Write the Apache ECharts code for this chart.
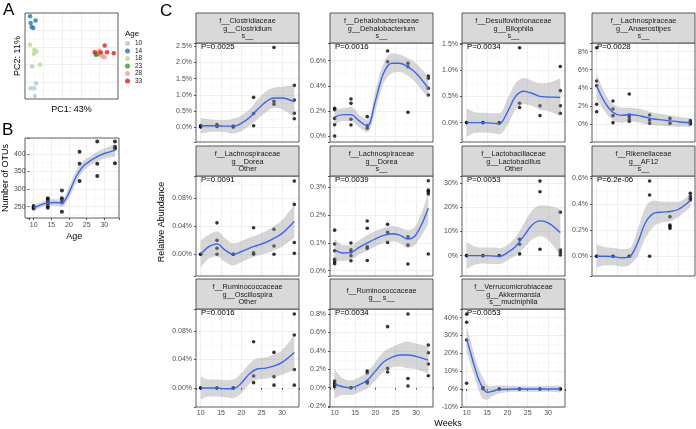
<!DOCTYPE html>
<html>
<head>
<meta charset="utf-8">
<script src="https://cdn.jsdelivr.net/npm/echarts@6/dist/echarts.min.js"></script>
<style>
  html, body { margin: 0; padding: 0; background: #fff; }
  #chart { width: 696px; height: 429px; }
</style>
</head>
<body>
<div id="chart"></div>
<script>
  // ---------- values ----------
  const weeks = [10, 14, 18, 23, 28, 33]
  const curveWeeks = [10, 12, 14, 16, 18, 20, 22, 24, 26, 28, 30, 33]
  const akkWeeks = [10, 11, 12, 13, 14, 15, 16, 18, 23, 28, 33]

  // panel A: PCA scores (arbitrary units)
  const ages = ['10', '14', '18', '23', '28', '33']
  const ageColors = ['#a6cee3', '#1f78b4', '#b2df8a', '#33a02c', '#fb9a99', '#e31a1c']
  const pcaAge10 = [[7.5, 37.7], [11.8, 18.3], [6.1, 12.5], [10, 12.5], [10.7, 3.5]]
  const pcaAge14 = [[5.4, 96.1], [11.4, 91.4], [6.1, 88.3], [7.1, 83.7], [8.9, 82.5]]
  const pcaAge18 = [[5.4, 63], [10, 57.2], [12.5, 55.3], [9.6, 52.5], [16.1, 39.7]]
  const pcaAge23 = [[76.8, 52.1], [78.9, 52.1], [77.9, 53.3], [76.1, 51.4]]
  const pcaAge28 = [[79.3, 56.4], [82.1, 51.4], [85.7, 48.6], [83.2, 49.4], [80.4, 54.1]]
  const pcaAge33 = [[85.7, 62.3], [81.4, 54.5], [88.2, 54.5], [95.4, 53.3], [75, 54.5]]

  // panel B: number of OTUs by age
  const otuPts = [[252, 248, 245], [274, 269, 264, 260, 253, 247], [296, 274, 269, 262, 236], [406, 372, 323], [435, 372, 337], [435, 420, 415, 373]]
  const otuFit = [247, 255, 261, 262, 261, 290, 335, 365, 380, 392, 401, 410]
  const otuLo = [238, 248, 253, 253, 250, 275, 318, 350, 367, 378, 387, 392]
  const otuHi = [256, 262, 270, 271, 272, 305, 352, 380, 393, 406, 415, 428]

  // panel C: relative abundance (%), points per week, loess fit and band on curveWeeks
  const clostridiumPts = [[0.05, 0.0, 0.02], [0.08, 0.02], [0.03, 0.0], [0.92, 0.42, 0.04], [2.46, 0.8, 0.71], [1.29, 0.84, 0.43, 0.26]]
  const clostridiumFit = [0.04, 0.04, 0.04, 0.03, 0.03, 0.12, 0.3, 0.55, 0.78, 0.9, 0.9, 0.78]
  const clostridiumLo = [-0.2, -0.15, -0.14, -0.15, -0.2, -0.12, 0.05, 0.25, 0.45, 0.6, 0.55, 0.3]
  const clostridiumHi = [0.28, 0.24, 0.22, 0.22, 0.26, 0.36, 0.55, 0.85, 1.1, 1.22, 1.25, 1.3]

  const dehaloPts = [[0.22, 0.21, 0.14, 0.09, 0.0], [0.295, 0.26, 0.133, 0.088], [0.154, 0.082, 0.061], [0.677, 0.592], [0.579, 0.552, 0.189], [0.478, 0.46, 0.38, 0.327]]
  const dehaloFit = [0.15, 0.17, 0.17, 0.12, 0.08, 0.28, 0.5, 0.58, 0.58, 0.55, 0.5, 0.38]
  const dehaloLo = [0.09, 0.12, 0.12, 0.07, 0.03, 0.2, 0.42, 0.5, 0.51, 0.48, 0.42, 0.3]
  const dehaloHi = [0.21, 0.22, 0.23, 0.17, 0.13, 0.36, 0.58, 0.66, 0.65, 0.62, 0.58, 0.47]

  const bilophilaPts = [[0, 0], [0, 0], [0, -0.01], [1.43, 0.37, 0.29], [0.32, 0.134], [1.07, 0.61, 0.32, 0.18]]
  const bilophilaFit = [0.0, 0.0, 0.0, -0.01, -0.02, 0.2, 0.5, 0.6, 0.56, 0.5, 0.49, 0.48]
  const bilophilaLo = [-0.27, -0.2, -0.19, -0.2, -0.22, -0.05, 0.25, 0.35, 0.32, 0.25, 0.22, 0.12]
  const bilophilaHi = [0.27, 0.2, 0.19, 0.18, 0.18, 0.45, 0.75, 0.85, 0.8, 0.75, 0.76, 0.84]

  const anaeroPts = [[8.43, 4.75, 4.23, 2.18, 1.36], [2.54, 1.66, 0.92, 0.15], [3.31, 0.99, 0.8, 0.5, 0.3], [1.0, 0.44, 0.07], [0.62, 0.07], [0.37, 0.15, 0.0]]
  const anaeroFit = [4.2, 2.4, 1.3, 0.95, 1.05, 0.95, 0.75, 0.55, 0.45, 0.35, 0.25, 0.15]
  const anaeroLo = [2.8, 1.4, 0.4, 0.1, 0.3, 0.2, 0.0, -0.15, -0.2, -0.25, -0.3, -0.35]
  const anaeroHi = [5.6, 3.4, 2.2, 1.8, 1.8, 1.7, 1.5, 1.25, 1.1, 0.95, 0.8, 0.65]

  const doreaOtherPts = [[0, 0], [0.045, 0.02, 0.0086, 0.0], [0, 0], [0.038, 0.002, 0.0], [0.0357, 0.012, 0.0], [0.1047, 0.0714, 0.017, 0.0014]]
  const doreaOtherFit = [0.0, 0.011, 0.015, 0.006, 0.0, 0.004, 0.009, 0.013, 0.017, 0.023, 0.03, 0.047]
  const doreaOtherLo = [-0.019, -0.006, -0.003, -0.011, -0.016, -0.011, -0.006, -0.002, 0.001, 0.006, 0.011, 0.024]
  const doreaOtherHi = [0.02, 0.028, 0.033, 0.023, 0.016, 0.019, 0.024, 0.028, 0.033, 0.04, 0.049, 0.071]

  const doreaPts = [[0.146, 0.096, 0.072, 0.041, 0.033, 0.025], [0.1, 0.075, 0.067, 0.054, 0.036], [0.179, 0.153, 0.086, 0.08, 0.037], [0.167, 0.138, 0.102], [0.122, 0.092, 0.024], [0.324, 0.29, 0.284, 0.276, 0.06]]
  const doreaFit = [0.075, 0.064, 0.066, 0.084, 0.1, 0.115, 0.127, 0.133, 0.128, 0.114, 0.13, 0.225]
  const doreaLo = [0.035, 0.035, 0.04, 0.058, 0.072, 0.087, 0.1, 0.105, 0.1, 0.082, 0.097, 0.17]
  const doreaHi = [0.115, 0.093, 0.092, 0.11, 0.128, 0.143, 0.154, 0.161, 0.156, 0.146, 0.163, 0.28]

  const lactoPts = [[0, 0], [0, 0], [0, 0], [6.7, 4.7, 0.7], [30.7, 26.3, 2.6], [17.9, 2.3, 1.4, 0.3]]
  const lactoFit = [0, 0, 0, -0.1, -0.3, 1.2, 3.8, 8, 12.5, 14.3, 13.5, 9.5]
  const lactoLo = [-5.5, -3.8, -3.3, -3.5, -3.5, -2, 0, 3, 6.5, 8, 6.5, 0]
  const lactoHi = [5.5, 3.8, 3.3, 3.3, 3, 4.4, 7.6, 13, 18.5, 20.6, 20.5, 19]

  const af12Pts = [[0, 0], [0, 0], [0, 0], [0.579, 0.472, 0], [0.305, 0.241, 0.229, 0.215], [0.485, 0.464, 0.446, 0.433]]
  const af12Fit = [0, 0, -0.002, -0.012, -0.005, 0.1, 0.26, 0.33, 0.34, 0.345, 0.36, 0.43]
  const af12Lo = [-0.09, -0.07, -0.07, -0.08, -0.07, 0.0, 0.14, 0.23, 0.26, 0.27, 0.3, 0.38]
  const af12Hi = [0.09, 0.07, 0.066, 0.056, 0.06, 0.2, 0.38, 0.43, 0.42, 0.42, 0.42, 0.48]

  const oscilloPts = [[0, 0], [0, 0], [0, 0], [0.065, 0.0168, 0.0075], [0.05, 0.016, 0.004], [0.104, 0.0744, 0.026, 0.004]]
  const oscilloFit = [0, 0, 0, -0.001, -0.001, 0.007, 0.02, 0.027, 0.028, 0.031, 0.036, 0.05]
  const oscilloLo = [-0.016, -0.012, -0.012, -0.013, -0.014, -0.007, 0.006, 0.012, 0.013, 0.015, 0.019, 0.025]
  const oscilloHi = [0.016, 0.012, 0.012, 0.011, 0.012, 0.021, 0.034, 0.042, 0.043, 0.047, 0.053, 0.075]

  const ruminoPts = [[0.073, 0.048, 0.03, 0.011], [0, 0], [0.18, 0.16, 0.07, 0.05], [0.663, 0.21, 0.17], [0.8, 0.1, 0.018], [0.464, 0.38, 0.258, 0.13]]
  const ruminoFit = [0.04, 0.01, 0.0, 0.03, 0.08, 0.18, 0.28, 0.33, 0.355, 0.355, 0.34, 0.3]
  const ruminoLo = [-0.12, -0.08, -0.08, -0.05, -0.01, 0.08, 0.17, 0.22, 0.23, 0.21, 0.2, 0.15]
  const ruminoHi = [0.2, 0.1, 0.08, 0.11, 0.17, 0.28, 0.39, 0.44, 0.48, 0.5, 0.48, 0.45]

  const akkPts = [[42, 37.5, 27.5, 3.2], [0.8, 0.2], [0, 0], [0, 0], [0, 0], [0, 0]]
  const akkFit = [28, 20, 12, 5, 0.5, -1.8, -1.5, -0.3, 0, 0, 0]
  const akkLo = [21, 13.5, 6, -1, -5.5, -6, -4.5, -2.5, -1.6, -1.6, -2]
  const akkHi = [35, 26.5, 18, 11, 6.5, 2.4, 1.5, 1.9, 1.6, 1.6, 2]

  // y axis: [min, max, tick step, decimals]
  const facets = [
    { strip: ['f__Clostridiaceae', 'g__Clostridium', 's__'], p: 'P=0.0025', pts: clostridiumPts, xs: curveWeeks, fit: clostridiumFit, lo: clostridiumLo, hi: clostridiumHi, y: [-0.46, 2.6, 0.5, 1] },
    { strip: ['f__Dehalobacteriaceae', 'g__Dehalobacterium', 's__'], p: 'P=0.0016', pts: dehaloPts, xs: curveWeeks, fit: dehaloFit, lo: dehaloLo, hi: dehaloHi, y: [-0.048, 0.741, 0.2, 1] },
    { strip: ['f__Desulfovibrionaceae', 'g__Bilophila', 's__'], p: 'P=0.0034', pts: bilophilaPts, xs: curveWeeks, fit: bilophilaFit, lo: bilophilaLo, hi: bilophilaHi, y: [-0.37, 1.52, 0.5, 1] },
    { strip: ['f__Lachnospiraceae', 'g__Anaerostipes', 's__'], p: 'P=0.0028', pts: anaeroPts, xs: curveWeeks, fit: anaeroFit, lo: anaeroLo, hi: anaeroHi, y: [-1.99, 8.95, 2, 0] },
    { strip: ['f__Lachnospiraceae', 'g__Dorea', 'Other'], p: 'P=0.0091', pts: doreaOtherPts, xs: curveWeeks, fit: doreaOtherFit, lo: doreaOtherLo, hi: doreaOtherHi, y: [-0.031, 0.112, 0.04, 2] },
    { strip: ['f__Lachnospiraceae', 'g__Dorea', 's__'], p: 'P=0.0039', pts: doreaPts, xs: curveWeeks, fit: doreaFit, lo: doreaLo, hi: doreaHi, y: [-0.019, 0.341, 0.1, 1] },
    { strip: ['f__Lactobacillaceae', 'g__Lactobacillus', 'Other'], p: 'P=0.0053', pts: lactoPts, xs: curveWeeks, fit: lactoFit, lo: lactoLo, hi: lactoHi, y: [-8.4, 32.8, 10, 0] },
    { strip: ['f__Rikenellaceae', 'g__AF12', 's__'], p: 'P=6.2e-06', pts: af12Pts, xs: curveWeeks, fit: af12Fit, lo: af12Lo, hi: af12Hi, y: [-0.152, 0.618, 0.2, 1] },
    { strip: ['f__Ruminococcaceae', 'g__Oscillospira', 'Other'], p: 'P=0.0016', pts: oscilloPts, xs: curveWeeks, fit: oscilloFit, lo: oscilloLo, hi: oscilloHi, y: [-0.0267, 0.111, 0.04, 2] },
    { strip: ['f__Ruminococcaceae', 'g__ s__'], p: 'P=0.0034', pts: ruminoPts, xs: curveWeeks, fit: ruminoFit, lo: ruminoLo, hi: ruminoHi, y: [-0.21, 0.855, 0.2, 1] },
    { strip: ['f__Verrucomicrobiaceae', 'g__Akkermansia', 's__muciniphila'], p: 'P=0.0053', pts: akkPts, xs: akkWeeks, fit: akkFit, lo: akkLo, hi: akkHi, y: [-10.1, 44.9, 10, 0] },
  ]

  // ---------- layout ----------
  const FONT = '"Liberation Sans", Arial, Helvetica, sans-serif'
  const colLeft = [196, 330, 462, 592]
  const rowTop = [43, 176, 309]
  const rowH = [99, 100, 98]
  const PW = 103
  const SH = 30
  const X_RANGE = [8.85, 34.15]

  const grids = []
  const xAxes = []
  const yAxes = []
  const series = []
  const graphics = []

  const tickFmt = (step, dec, suffix) => v => {
    const k = Math.round(v / step)
    if (Math.abs(v / step - k) > 1e-6) return ''
    return (k * step).toFixed(dec) + suffix
  }

  function valAxis(gi, min, max, step, dec, suffix, showLabels, extra) {
    return Object.assign({
      gridIndex: gi,
      type: 'value',
      min,
      max,
      minInterval: step,
      maxInterval: step,
      splitNumber: Math.max(1, Math.round((max - min) / step)),
      axisLine: { show: false },
      axisTick: { show: showLabels, length: 2, lineStyle: { color: '#333', width: 0.8 } },
      axisLabel: { show: showLabels, fontSize: 7, color: '#4d4d4d', margin: 4, fontFamily: FONT, formatter: tickFmt(step, dec, suffix) },
      splitLine: { show: true, showMinLine: false, showMaxLine: false, lineStyle: { color: '#ebebeb', width: 0.8 } },
      minorTick: { show: false, splitNumber: 2 },
      minorSplitLine: { show: true, lineStyle: { color: '#f3f3f3', width: 0.5 } },
    }, extra || {})
  }

  // band = lower edge + (upper - lower) stacked on the y dimension
  function addSmooth(gi, key, xs, fit, lo, hi) {
    series.push({
      type: 'line', xAxisIndex: gi, yAxisIndex: gi, stack: key, stackStrategy: 'all',
      data: xs.map((x, k) => [lo[k], x]), encode: { x: 1, y: 0 }, symbol: 'none', smooth: 0.35,
      lineStyle: { opacity: 0 }, silent: true, z: 3,
    })
    series.push({
      type: 'line', xAxisIndex: gi, yAxisIndex: gi, stack: key, stackStrategy: 'all',
      data: xs.map((x, k) => [hi[k] - lo[k], x]), encode: { x: 1, y: 0 }, symbol: 'none', smooth: 0.35,
      lineStyle: { opacity: 0 }, areaStyle: { color: 'rgba(153,153,153,0.4)', opacity: 1 }, silent: true, z: 3,
    })
    series.push({
      type: 'line', xAxisIndex: gi, yAxisIndex: gi,
      data: xs.map((x, k) => [x, fit[k]]), symbol: 'none', smooth: 0.35,
      lineStyle: { color: '#3366ff', width: 1.4 }, silent: true, z: 4,
    })
  }

  function addPoints(gi, pts, size) {
    series.push({
      type: 'scatter', xAxisIndex: gi, yAxisIndex: gi, symbolSize: size,
      data: pts.flatMap((vals, j) => vals.map(v => [weeks[j], v])),
      itemStyle: { color: '#000' }, silent: true, z: 2,
    })
  }

  function border(x, y, w, h) {
    graphics.push({ type: 'rect', z: 100, shape: { x, y, width: w, height: h }, style: { fill: null, stroke: '#333', lineWidth: 0.8 } })
  }

  function label(text, x, y, size, opts) {
    graphics.push(Object.assign({
      type: 'text', z: 101, x, y,
      style: Object.assign({ text, fontSize: size, fontFamily: FONT, fill: '#000', align: 'left', verticalAlign: 'middle', textAlign: 'left', textVerticalAlign: 'middle' }, (opts && opts.style) || {}),
    }, (opts && opts.el) || {}))
  }

  // ---------- panel A ----------
  grids.push({ left: 25, top: 13, width: 93, height: 86 })
  xAxes.push(valAxis(0, 0, 100, 20, 0, '', false, {
    name: 'PC1: 43%', nameLocation: 'middle', nameGap: 6, nameTextStyle: { fontSize: 9, color: '#000', fontFamily: FONT },
  }))
  yAxes.push(valAxis(0, 0, 100, 20, 0, '', false, {
    name: 'PC2: 11%', nameLocation: 'middle', nameGap: 3, nameTextStyle: { fontSize: 9, color: '#000', fontFamily: FONT },
  }))
  const pcaGroups = [pcaAge10, pcaAge14, pcaAge18, pcaAge23, pcaAge28, pcaAge33]
  pcaGroups.forEach((pts, i) => {
    series.push({
      name: ages[i], type: 'scatter', xAxisIndex: 0, yAxisIndex: 0, symbolSize: 4.5,
      data: pts, itemStyle: { color: ageColors[i] }, z: 2,
    })
  })
  border(25, 13, 93, 86)
  label('Age', 125, 34, 8)

  // ---------- panel B ----------
  grids.push({ left: 25, top: 138, width: 94, height: 80 })
  xAxes.push(valAxis(1, X_RANGE[0], X_RANGE[1], 5, 0, '', true, {
    name: 'Age', nameLocation: 'middle', nameGap: 14, nameTextStyle: { fontSize: 9, color: '#000', fontFamily: FONT },
  }))
  yAxes.push(valAxis(1, 218, 445, 50, 0, '', true, {
    name: 'Number of OTUs', nameLocation: 'middle', nameGap: 16, nameTextStyle: { fontSize: 9, color: '#000', fontFamily: FONT },
  }))
  addPoints(1, otuPts, 4)
  addSmooth(1, 'bandB', curveWeeks, otuFit, otuLo, otuHi)
  border(25, 138, 94, 80)

  // ---------- panel C facets ----------
  facets.forEach((f, i) => {
    const col = i % 4
    const row = Math.floor(i / 4)
    const gi = i + 2
    const L = colLeft[col]
    const T = rowTop[row]
    const H = rowH[row]
    grids.push({ left: L, top: T, width: PW, height: H })
    xAxes.push(valAxis(gi, X_RANGE[0], X_RANGE[1], 5, 0, '', row === 2, { axisLabel: { show: row === 2, fontSize: 7, color: '#4d4d4d', margin: 3, fontFamily: FONT, formatter: tickFmt(5, 0, '') } }))
    yAxes.push(valAxis(gi, f.y[0], f.y[1], f.y[2], f.y[3], '%', true))
    addPoints(gi, f.pts, 3.6)
    addSmooth(gi, 'band' + i, f.xs, f.fit, f.lo, f.hi)
    border(L, T, PW, H)
    graphics.push({ type: 'rect', z: 100, shape: { x: L, y: T - SH, width: PW, height: SH }, style: { fill: '#d9d9d9', stroke: '#333', lineWidth: 0.8 } })
    label(f.strip.join('\n'), L + PW / 2, T - SH / 2 + 0.5, 7.3, { style: { align: 'center', textAlign: 'center', lineHeight: 7.8, fill: '#1a1a1a' } })
    label(f.p, L + 5, T + 3.5, 7.8)
  })

  // shared titles and panel letters
  label('Relative Abundance', 162, 222, 9, { el: { rotation: Math.PI / 2 }, style: { align: 'center', textAlign: 'center' } })
  label('Weeks', 448, 424, 9, { style: { align: 'center', textAlign: 'center' } })
  label('A', 3, 10, 17)
  label('B', 2, 130, 17)
  label('C', 160, 11, 17)

  const chart = echarts.init(document.getElementById('chart'), null, { renderer: 'canvas' })
  chart.setOption({
    animation: false,
    backgroundColor: '#fff',
    textStyle: { fontFamily: FONT },
    legend: {
      data: ages, orient: 'vertical', left: 125, top: 40, padding: 0,
      itemWidth: 5, itemHeight: 5, itemGap: 0.5, icon: 'circle',
      textStyle: { fontSize: 6.5, color: '#1a1a1a', lineHeight: 5.5, fontFamily: FONT },
    },
    grid: grids,
    xAxis: xAxes,
    yAxis: yAxes,
    series,
    graphic: { elements: graphics },
  })
</script>
</body>
</html>
